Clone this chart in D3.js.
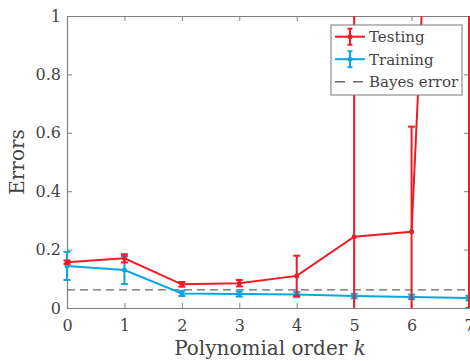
<!DOCTYPE html>
<html>
<head>
<meta charset="utf-8">
<script src="https://cdn.jsdelivr.net/npm/d3@7"></script>
<style>
  html, body { margin: 0; padding: 0; background: #fff; overflow: hidden; }
  svg { display: block; }
  text { font-family: "DejaVu Serif", "Liberation Serif", serif; fill: #444; }
</style>
</head>
<body>
<svg id="chart" width="470" height="361"></svg>
<script>
// Polynomial order on the x axis
const orders = [0, 1, 2, 3, 4, 5, 6, 7];

// Mean test error and its spread for each order
const testMean = [0.157, 0.170, 0.081, 0.085, 0.110, 0.244, 0.261, 4.5];
const testErr  = [0.006, 0.014, 0.008, 0.011, 0.069, 1.0, 0.36, 4.5];

// Mean training error and its spread for each order
const trainMean = [0.144, 0.130, 0.050, 0.048, 0.046, 0.041, 0.038, 0.034];
const trainErr  = [0.048, 0.048, 0.009, 0.009, 0.009, 0.008, 0.008, 0.008];

const bayesError = 0.062;

const yTicks = [0, 0.2, 0.4, 0.6, 0.8, 1];
const yTickLabels = ["0", "0.2", "0.4", "0.6", "0.8", "1"];
const xTicks = orders;

const seriesNames = ["Testing", "Training", "Bayes error"];
const colors = { test: "#ee1d25", train: "#0aa5e2", bayes: "#666" };

const svg = d3.select("#chart");
const m = { left: 67, right: 1, top: 16, bottom: 53 };
const W = 470, H = 361;
const x = d3.scaleLinear().domain([0, 7]).range([m.left, W - m.right]);
const y = d3.scaleLinear().domain([0, 1]).range([H - m.bottom, m.top]);

// Marks are clipped to the vertical extent of the axes only
svg.append("defs").append("clipPath").attr("id", "plot")
  .append("rect")
  .attr("x", 0).attr("y", y(1))
  .attr("width", W).attr("height", y(0) - y(1));

// Axes: ticks inward on all four sides
const axisColor = "#808080";
const tickLen = 5;
function styleAxis(g) {
  g.select(".domain").attr("stroke", axisColor).attr("stroke-width", 1.2);
  g.selectAll(".tick line").attr("stroke", axisColor);
  g.selectAll(".tick text")
    .style("font-family", "'DejaVu Serif', serif")
    .style("font-size", "16px").attr("fill", "#444");
}
svg.append("g").attr("transform", `translate(0,${y(0)})`)
  .call(d3.axisBottom(x).tickValues(xTicks).tickFormat(d3.format("d"))
    .tickSizeInner(-tickLen).tickSizeOuter(0).tickPadding(11.5))
  .call(styleAxis);
svg.append("g").attr("transform", `translate(0,${y(1)})`)
  .call(d3.axisTop(x).tickValues(xTicks).tickFormat("")
    .tickSizeInner(-tickLen).tickSizeOuter(0))
  .call(styleAxis);
svg.append("g").attr("transform", `translate(${x(0)},0)`)
  .call(d3.axisLeft(y).tickValues(yTicks).tickFormat((d, i) => yTickLabels[i])
    .tickSizeInner(-tickLen).tickSizeOuter(0).tickPadding(6))
  .call(styleAxis);
svg.append("g").attr("transform", `translate(${x(7)},0)`)
  .call(d3.axisRight(y).tickValues(yTicks).tickFormat("")
    .tickSizeInner(-tickLen).tickSizeOuter(0))
  .call(styleAxis);

// Axis titles
svg.append("text")
  .attr("transform", `translate(24,${(y(0) + y(1)) / 2}) rotate(-90)`)
  .attr("text-anchor", "middle")
  .style("font-size", "20px")
  .text("Errors");
const xl = svg.append("text")
  .attr("x", (x(0) + x(7)) / 2 + 2).attr("y", 355)
  .attr("text-anchor", "middle")
  .style("font-size", "20px");
xl.append("tspan").text("Polynomial order ");
xl.append("tspan").attr("font-style", "italic").text("k");

const plot = svg.append("g").attr("clip-path", "url(#plot)");

// Bayes error reference line
plot.append("line")
  .attr("x1", x(0)).attr("x2", x(7))
  .attr("y1", y(bayesError)).attr("y2", y(bayesError))
  .attr("stroke", colors.bayes).attr("stroke-width", 1.4)
  .attr("stroke-dasharray", "8,5");

function drawSeries(means, errs, color) {
  const pts = orders.map((o, i) => ({ o, v: means[i], e: errs[i] }));
  const g = plot.append("g");
  g.append("path").datum(pts)
    .attr("fill", "none").attr("stroke", color).attr("stroke-width", 2)
    .attr("d", d3.line().x(d => x(d.o)).y(d => y(d.v)));
  const cap = 3.5;
  const eb = g.selectAll(".eb").data(pts).join("g");
  eb.append("line")
    .attr("x1", d => x(d.o)).attr("x2", d => x(d.o))
    .attr("y1", d => y(d.v - d.e)).attr("y2", d => y(d.v + d.e))
    .attr("stroke", color).attr("stroke-width", 2);
  eb.append("line")
    .attr("x1", d => x(d.o) - cap).attr("x2", d => x(d.o) + cap)
    .attr("y1", d => y(d.v - d.e)).attr("y2", d => y(d.v - d.e))
    .attr("stroke", color).attr("stroke-width", 2);
  eb.append("line")
    .attr("x1", d => x(d.o) - cap).attr("x2", d => x(d.o) + cap)
    .attr("y1", d => y(d.v + d.e)).attr("y2", d => y(d.v + d.e))
    .attr("stroke", color).attr("stroke-width", 2);
  eb.append("circle")
    .attr("cx", d => x(d.o)).attr("cy", d => y(d.v)).attr("r", 2.5)
    .attr("fill", color);
}
drawSeries(trainMean, trainErr, colors.train);
drawSeries(testMean, testErr, colors.test);

// Legend
const lg = svg.append("g").attr("transform", "translate(331,25)");
lg.append("rect").attr("width", 131).attr("height", 70)
  .attr("fill", "#fff").attr("stroke", "#777").attr("stroke-width", 1);
const legendColors = [colors.test, colors.train, colors.bayes];
seriesNames.forEach((name, i) => {
  const cy = 11.7 + i * 22.5;
  const c = legendColors[i];
  if (i < 2) {
    lg.append("line").attr("x1", 4).attr("x2", 34).attr("y1", cy).attr("y2", cy)
      .attr("stroke", c).attr("stroke-width", 2);
    lg.append("line").attr("x1", 19).attr("x2", 19).attr("y1", cy - 8).attr("y2", cy + 8)
      .attr("stroke", c).attr("stroke-width", 2);
    lg.append("line").attr("x1", 16.5).attr("x2", 21.5).attr("y1", cy - 8).attr("y2", cy - 8)
      .attr("stroke", c).attr("stroke-width", 2);
    lg.append("line").attr("x1", 16.5).attr("x2", 21.5).attr("y1", cy + 8).attr("y2", cy + 8)
      .attr("stroke", c).attr("stroke-width", 2);
    lg.append("circle").attr("cx", 19).attr("cy", cy).attr("r", 2.5).attr("fill", c);
  } else {
    lg.append("line").attr("x1", 4).attr("x2", 34).attr("y1", cy).attr("y2", cy)
      .attr("stroke", c).attr("stroke-width", 1.4).attr("stroke-dasharray", "10,8");
  }
  lg.append("text").attr("x", 38).attr("y", cy + 5.5)
    .style("font-size", "15px").text(name);
});
</script>
</body>
</html>
